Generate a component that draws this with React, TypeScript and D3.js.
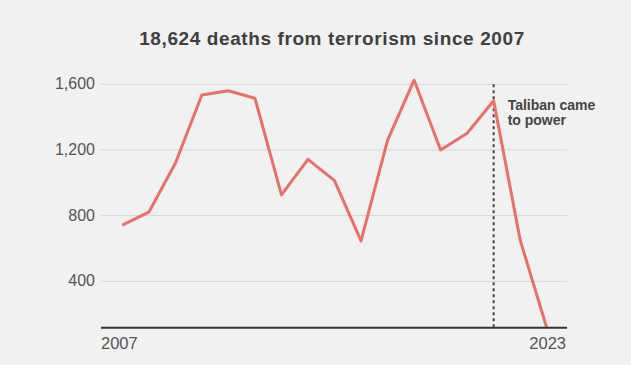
import React from "react";
import * as d3 from "d3";

const years = [2007, 2008, 2009, 2010, 2011, 2012, 2013, 2014, 2015, 2016, 2017, 2018, 2019, 2020, 2021, 2022, 2023];
const deaths = [742, 821, 1119, 1535, 1561, 1515, 926, 1143, 1013, 646, 1259, 1626, 1200, 1302, 1500, 652, 117];
const yTicks = [400, 800, 1200, 1600];
const xTickLabels = ["2007", "2023"];
const title = "18,624 deaths from terrorism since 2007";
const eventYear = 2021;
const eventLabel = ["Taliban came", "to power"];

const W = 631;
const H = 365;
const FONT = "'Liberation Sans', Arial, Helvetica, sans-serif";

export default function App() {
  const x = d3.scaleLinear().domain([2007, 2023]).range([122.3, 546.7]);
  const y = d3.scaleLinear().domain([0, 1600]).range([347, 84.3]);
  const gridX0 = 101;
  const gridX1 = 567;
  const baseY = y(d3.min(deaths) as number);

  const line = d3
    .line<number>()
    .x((_, i) => x(years[i]))
    .y((d) => y(d));

  return (
    <svg
      width={W}
      height={H}
      style={{ position: "absolute", left: 0, top: 0, background: "#f1f1f1" }}
      fontFamily={FONT}
    >
      <rect x={0} y={0} width={W} height={H} fill="#f1f1f1" />
      <text x={332} y={45} textAnchor="middle" fontSize={19} letterSpacing={0.6} fontWeight="bold" fill="#404040">
        {title}
      </text>
      {yTicks.map((t) => (
        <g key={t}>
          <line x1={gridX0} x2={gridX1} y1={y(t)} y2={y(t)} stroke="#d6d6d6" strokeWidth={1} />
          <text x={95} y={y(t)} dy="0.32em" textAnchor="end" fontSize={16} fill="#555">
            {d3.format(",")(t)}
          </text>
        </g>
      ))}
      <line
        x1={x(eventYear)}
        x2={x(eventYear)}
        y1={y(1600)}
        y2={baseY}
        stroke="#444"
        strokeWidth={2}
        strokeDasharray="3,3"
      />
      <path d={line(deaths) || ""} fill="none" stroke="#e8706a" strokeWidth={3} strokeLinejoin="round" />
      <line x1={gridX0} x2={gridX1} y1={baseY} y2={baseY} stroke="#333" strokeWidth={2} />
      <text x={gridX0} y={349} fontSize={16.5} fill="#555" textAnchor="start">
        {xTickLabels[0]}
      </text>
      <text x={gridX1 - 1} y={349} fontSize={16.5} fill="#555" textAnchor="end">
        {xTickLabels[1]}
      </text>
      <text fontSize={14} fontWeight="bold" fill="#444">
        {eventLabel.map((l, i) => (
          <tspan key={i} x={x(eventYear) + 14} y={110 + i * 15}>
            {l}
          </tspan>
        ))}
      </text>
    </svg>
  );
}
